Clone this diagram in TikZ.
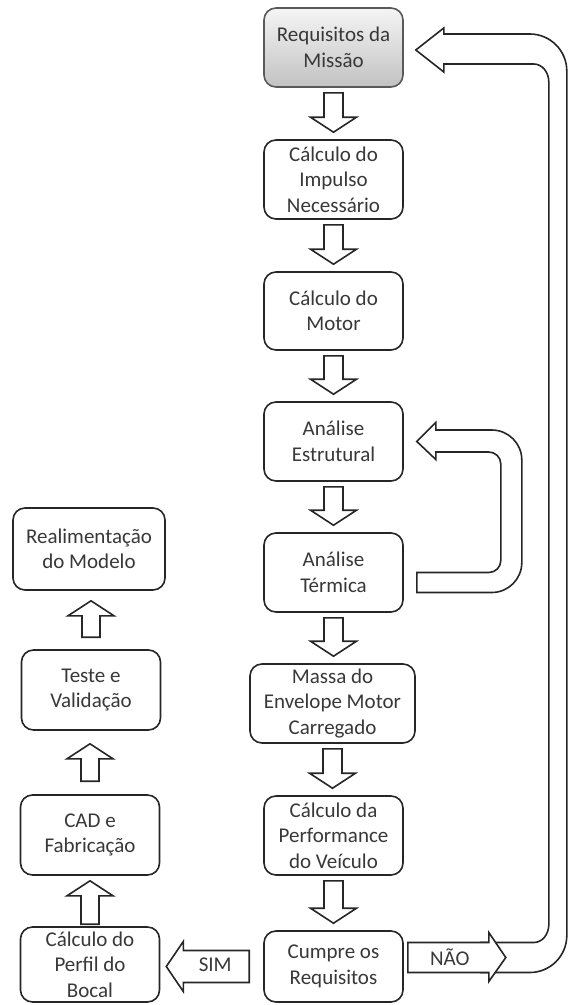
\documentclass[tikz,border=0pt]{standalone}
\usepackage{fontspec}
\setmainfont{Carlito}
\usetikzlibrary{calc}

\tikzset{
  etapa/.style={draw=black!85, line width=1.6bp, rounded corners=12bp, fill=white,
    align=center, minimum width=139bp, minimum height=79bp, inner sep=2bp,
    text=black!78, font=\fontsize{21bp}{25.5bp}\selectfont},
  seta/.style={draw=black!85, line width=1.6bp, fill=white},
  rotulo/.style={inner sep=0pt, text=black!78, font=\fontsize{21bp}{25.5bp}\selectfont},
}

\begin{document}
\begin{tikzpicture}[x=1bp,y=-1bp]
        \useasboundingbox (0,0) rectangle (568,1005);
        % coluna principal
        \node[etapa, draw=black!65, top color=gray!8, bottom color=gray!48] (req) at (333.5,47.5) {Requisitos da\\Missão};
        \node[etapa] (imp) at (333.5,179.5) {Cálculo do\\Impulso\\Necessário};
        \node[etapa, minimum height=78bp] (mot) at (333.5,311) {Cálculo do\\Motor};
        \node[etapa] (est) at (333.5,441.5) {Análise\\Estrutural};
        \node[etapa] (ter) at (333.5,572.5) {Análise\\Térmica};
        \node[etapa, minimum width=165bp] (massa) at (332.5,703.5) {Massa do\\Envelope Motor\\Carregado};
        \node[etapa] (perf) at (333.5,835.5) {Cálculo da\\Performance\\do Veículo};
        \node[etapa, minimum height=71bp] (cumpre) at (333.5,966.5) {Cumpre os\\Requisitos};
        % coluna do bocal
        \node[etapa, minimum width=152bp, minimum height=82bp] (real) at (89,549) {Realimentação\\do Modelo};
        \node[etapa, minimum height=80bp] (teste) at (91,690) {Teste e\\Validação};
        \node[etapa, minimum height=80bp] (cad) at (90,835) {CAD e\\Fabricação};
        \node[etapa, minimum height=75bp] (perfil) at (90,964.5) {Cálculo do\\Perfil do\\Bocal};

        \foreach \de/\para in {req/imp,imp/mot,mot/est,est/ter,ter/massa,massa/perf,perf/cumpre} {
            \draw[seta] let \p1=(\de.south), \p2=(\para.north) in
              (\x1-9.5bp,\y1-5bp) -- (\x1-9.5bp,\y2+22bp) -- (\x1-23bp,\y2+22bp) -- (\x1,\y2+7bp)
              -- (\x1+23bp,\y2+22bp) -- (\x1+9.5bp,\y2+22bp) -- (\x1+9.5bp,\y1-5bp) -- cycle;
          }
        \foreach \de/\para/\ga/\gb in {perfil/cad/2/5,cad/teste/13/13,teste/real/12/10} {
            \draw[seta] let \p1=(\de.north), \p2=(\para.south) in
              (\x1-9bp,\y1+\ga*1bp) -- (\x1-9bp,\y2-\gb*1bp-15bp) -- (\x1-23bp,\y2-\gb*1bp-15bp) -- (\x1,\y2-\gb*1bp)
              -- (\x1+23bp,\y2-\gb*1bp-15bp) -- (\x1+9bp,\y2-\gb*1bp-15bp) -- (\x1+9bp,\y1+\ga*1bp) -- cycle;
          }

        % volta termica -> estrutural
        \draw[seta] let \p1=(ter.east), \p2=(est.east) in
          (\x1+13bp,\y1) -- (\x1+85bp,\y1) arc[start angle=-90,end angle=0,radius=12bp]
          -- (\x1+97bp,\y2-22.5bp) arc[start angle=0,end angle=90,radius=12bp]
          -- (\x2+32bp,\y2-10.5bp) -- (\x2+32bp,\y2-18bp) -- (\x2+13bp,\y2) -- (\x2+32bp,\y2+19bp)
          -- (\x2+32bp,\y2+11.5bp) -- (\x2+88bp,\y2+11.5bp) arc[start angle=90,end angle=0,radius=30bp]
          -- (\x1+118bp,\y1+10bp) arc[start angle=0,end angle=-90,radius=30bp]
          -- (\x1+13bp,\y1-20bp) -- cycle;

        % volta NAO -> requisitos
        \draw[seta] let \p1=(cumpre.east), \p2=(req.east) in
          (\x1+77bp,\y1+24bp) -- (\x1+130bp,\y1+24bp) arc[start angle=-90,end angle=0,x radius=15bp,y radius=18bp]
          -- (\x2+145bp,\y2-34.5bp) arc[start angle=0,end angle=90,x radius=15bp,y radius=18bp]
          -- (\x2+40bp,\y2-16.5bp) -- (\x2+40bp,\y2-24.5bp) -- (\x2+12bp,\y2-2.5bp) -- (\x2+40bp,\y2+19.5bp)
          -- (\x2+40bp,\y2+13.5bp) -- (\x2+126bp,\y2+13.5bp) arc[start angle=90,end angle=0,radius=37bp]
          -- (\x1+163bp,\y1+31bp) arc[start angle=0,end angle=-90,radius=37bp]
          -- (\x1+77bp,\y1-6bp) -- cycle;

        % decisao
        \draw[seta] let \p1=(cumpre.east) in
          (\x1+4bp,\y1+24bp) -- (\x1+85bp,\y1+24bp) -- (\x1+85bp,\y1+34bp) -- (\x1+102bp,\y1+9bp)
          -- (\x1+85bp,\y1-15bp) -- (\x1+85bp,\y1-6bp) -- (\x1+4bp,\y1-6bp) -- cycle;
        \draw[seta] let \p1=(cumpre.west), \p2=(perfil.east) in
          (\x1-14bp,\y1+16bp) -- (\x2+23bp,\y1+16bp) -- (\x2+23bp,\y1+25bp) -- (\x2+6bp,\y1)
          -- (\x2+23bp,\y1-25bp) -- (\x2+23bp,\y1-16bp) -- (\x1-14bp,\y1-16bp) -- cycle;
        \node[rotulo] (nao) at ($(cumpre.east)+(46,-9)$) {NÃO};
        \node[rotulo] (sim) at ($(cumpre.west)+(-48,-2)$) {SIM};
      \end{tikzpicture}
\end{document}
